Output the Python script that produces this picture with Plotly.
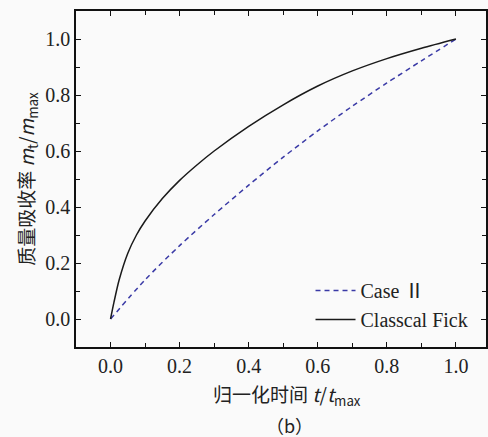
import plotly.graph_objects as go

# Classical Fick curve
t_fick = [0, 0.01, 0.025, 0.05, 0.075, 0.1, 0.15, 0.2, 0.25, 0.3, 0.4, 0.5, 0.6, 0.7, 0.8, 0.9, 1.0]
m_fick = [0, 0.06, 0.14, 0.235, 0.30, 0.35, 0.43, 0.495, 0.55, 0.60, 0.688, 0.765, 0.832, 0.886, 0.93, 0.967, 1.0]

# Case II curve
t_case2 = [0, 0.1, 0.2, 0.3, 0.4, 0.5, 0.6, 0.7, 0.8, 0.9, 1.0]
m_case2 = [0, 0.14, 0.262, 0.373, 0.478, 0.578, 0.672, 0.76, 0.843, 0.922, 1.0]

tick_vals = [0.0, 0.2, 0.4, 0.6, 0.8, 1.0]
tick_text = ["0.0", "0.2", "0.4", "0.6", "0.8", "1.0"]

SERIF = "Liberation Serif, Times New Roman, Noto Sans CJK SC, serif"
CJK = "Noto Sans CJK SC, Liberation Serif, serif"

fig = go.Figure()
fig.add_trace(go.Scatter(x=t_case2, y=m_case2, mode="lines", name="Case Ⅱ",
                         line=dict(color="#3a3aa6", width=1.5, dash="5px,4px", shape="spline", smoothing=0.8)))
fig.add_trace(go.Scatter(x=t_fick, y=m_fick, mode="lines", name="Classcal Fick",
                         line=dict(color="#1a1a1a", width=1.5, shape="spline", smoothing=0.8)))

axis_common = dict(
    showline=True, linecolor="#111", linewidth=1.5, mirror="ticks",
    ticks="inside", ticklen=5, tickwidth=1.2, tickcolor="#111",
    showgrid=False, zeroline=False,
    tickfont=dict(family=SERIF, size=20, color="#222"),
    tickvals=tick_vals, ticktext=tick_text,
    minor=dict(ticks="inside", ticklen=4, tickwidth=1.2, tickcolor="#111", dtick=0.1, tick0=0, showgrid=False),
)

fig.update_xaxes(range=[-0.1, 1.087], **axis_common)
fig.update_yaxes(range=[-0.1, 1.1], ticklabelstandoff=0, **axis_common)

fig.update_layout(
    width=488, height=437,
    margin=dict(l=76, r=0, t=11, b=90),
    paper_bgcolor="#fafafa", plot_bgcolor="#fafafa",
    showlegend=True,
    legend=dict(x=0.572, y=0.226, xanchor="left", yanchor="top",
                bgcolor="rgba(0,0,0,0)", font=dict(family=SERIF, size=20, color="#222"),
                tracegroupgap=0, itemwidth=40),
    annotations=[
        dict(text="质量吸收率 <i>m</i><sub>t</sub>/<i>m</i><sub>max</sub>", xref="paper", yref="paper",
             x=-0.12, y=0.5, xanchor="center", yanchor="middle", textangle=-90, showarrow=False,
             font=dict(family=CJK, size=19, color="#222")),
        dict(text="归一化时间 <i>t</i>/<i>t</i><sub>max</sub>", xref="paper", yref="paper",
             x=0.515, y=-0.142, xanchor="center", yanchor="middle", showarrow=False,
             font=dict(family=CJK, size=19, color="#222")),
        dict(text="（b）", xref="paper", yref="paper",
             x=0.52, y=-0.232, xanchor="center", yanchor="middle", showarrow=False,
             font=dict(family=CJK, size=18, color="#222")),
    ],
)

fig.write_html("out.html", config={"displayModeBar": False},
               post_script="document.body.style.margin='0';document.body.style.background='#fafafa';")
